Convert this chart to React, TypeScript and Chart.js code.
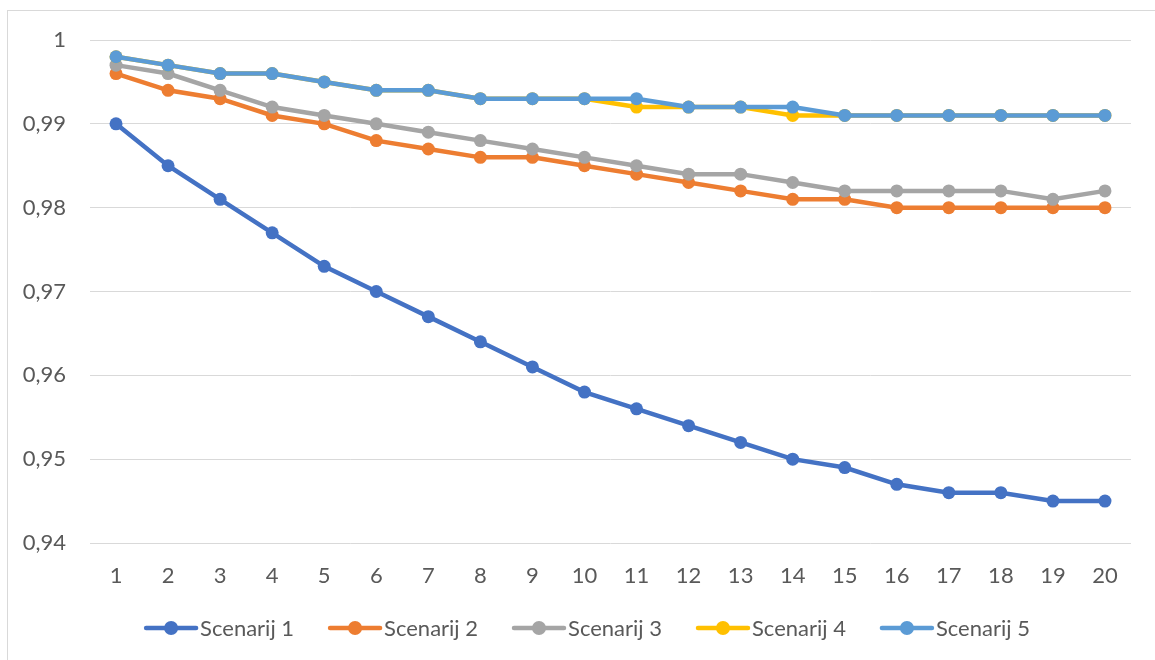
import React, { useEffect, useRef } from "react";
import { Chart, registerables } from "chart.js";

Chart.register(...registerables);

const categories = ["1", "2", "3", "4", "5", "6", "7", "8", "9", "10", "11", "12", "13", "14", "15", "16", "17", "18", "19", "20"];

const seriesNames = ["Scenarij 1", "Scenarij 2", "Scenarij 3", "Scenarij 4", "Scenarij 5"];
const seriesColors = ["#4472C4", "#ED7D31", "#A5A5A5", "#FFC000", "#5B9BD5"];

const scenarij1 = [0.990, 0.985, 0.981, 0.977, 0.973, 0.970, 0.967, 0.964, 0.961, 0.958, 0.956, 0.954, 0.952, 0.950, 0.949, 0.947, 0.946, 0.946, 0.945, 0.945];
const scenarij2 = [0.996, 0.994, 0.993, 0.991, 0.990, 0.988, 0.987, 0.986, 0.986, 0.985, 0.984, 0.983, 0.982, 0.981, 0.981, 0.980, 0.980, 0.980, 0.980, 0.980];
const scenarij3 = [0.997, 0.996, 0.994, 0.992, 0.991, 0.990, 0.989, 0.988, 0.987, 0.986, 0.985, 0.984, 0.984, 0.983, 0.982, 0.982, 0.982, 0.982, 0.981, 0.982];
const scenarij4 = [0.998, 0.997, 0.996, 0.996, 0.995, 0.994, 0.994, 0.993, 0.993, 0.993, 0.992, 0.992, 0.992, 0.991, 0.991, 0.991, 0.991, 0.991, 0.991, 0.991];
const scenarij5 = [0.998, 0.997, 0.996, 0.996, 0.995, 0.994, 0.994, 0.993, 0.993, 0.993, 0.993, 0.992, 0.992, 0.992, 0.991, 0.991, 0.991, 0.991, 0.991, 0.991];

const seriesValues = [scenarij1, scenarij2, scenarij3, scenarij4, scenarij5];

const yMin = 0.94;
const yMax = 1;
const yStep = 0.01;

const FONT = "Lato, 'Open Sans', sans-serif";
const TEXT_COLOR = "#595959";
const GRID_COLOR = "#d9d9d9";

const excelLegend = {
  id: "excelLegend",
  afterDraw(chart: any, _args: any, opts: any) {
    const ctx = chart.ctx as CanvasRenderingContext2D;
    const datasets = chart.data.datasets;
    ctx.save();
    ctx.font = `${opts.fontSize}px ${FONT}`;
    const widths = datasets.map((ds: any) => opts.lineWidth + opts.textGap + ctx.measureText(ds.label).width);
    const total = widths.reduce((a: number, b: number) => a + b, 0) + opts.itemGap * (datasets.length - 1);
    let x = opts.centerX - total / 2;
    const y = opts.centerY;
    datasets.forEach((ds: any, i: number) => {
      ctx.strokeStyle = ds.borderColor;
      ctx.lineWidth = opts.strokeWidth;
      ctx.lineCap = "round";
      ctx.beginPath();
      ctx.moveTo(x + 2, y);
      ctx.lineTo(x + opts.lineWidth - 2, y);
      ctx.stroke();
      ctx.fillStyle = ds.borderColor;
      ctx.beginPath();
      ctx.arc(x + opts.lineWidth / 2, y, opts.radius, 0, Math.PI * 2);
      ctx.fill();
      ctx.fillStyle = TEXT_COLOR;
      ctx.textBaseline = "middle";
      ctx.textAlign = "left";
      ctx.fillText(ds.label, x + opts.lineWidth + opts.textGap, y + 1);
      x += widths[i] + opts.itemGap;
    });
    ctx.restore();
  },
};

export default function App() {
  const canvasRef = useRef<HTMLCanvasElement | null>(null);

  useEffect(() => {
    if (!canvasRef.current) return;
    const chart = new Chart(canvasRef.current, {
      type: "line",
      data: {
        labels: categories,
        datasets: seriesNames.map((name, i) => ({
          label: name,
          data: seriesValues[i],
          borderColor: seriesColors[i],
          backgroundColor: seriesColors[i],
          pointBackgroundColor: seriesColors[i],
          pointBorderColor: seriesColors[i],
          borderWidth: 4.5,
          pointRadius: 6.5,
          pointBorderWidth: 0,
          tension: 0,
          fill: false,
          order: seriesNames.length - 1 - i,
        })),
      },
      options: {
        responsive: false,
        animation: false,
        layout: { padding: { top: 29, right: 24, left: 0, bottom: 0 } },
        plugins: {
          legend: { display: false },
          tooltip: { enabled: false },
          excelLegend: {
            centerX: 579,
            centerY: 617,
            fontSize: 22,
            lineWidth: 54,
            textGap: 2,
            itemGap: 34,
            strokeWidth: 4.5,
            radius: 7,
          },
        } as any,
        scales: {
          x: {
            type: "category",
            offset: true,
            grid: { display: false, drawTicks: false },
            border: { display: false },
            ticks: {
              color: TEXT_COLOR,
              font: { family: FONT, size: 22 },
              padding: 20,
              maxRotation: 0,
              autoSkip: false,
            },
            afterFit: (scale: any) => {
              scale.height = 117;
            },
          },
          y: {
            min: yMin,
            max: yMax,
            grid: { color: GRID_COLOR, lineWidth: 1, drawTicks: true, tickLength: 20, tickColor: "rgba(0,0,0,0)" },
            border: { display: false },
            ticks: {
              stepSize: yStep,
              color: TEXT_COLOR,
              font: { family: FONT, size: 22 },
              padding: 4,
              callback: (v: any) => String(Math.round(Number(v) * 100) / 100).replace(".", ","),
            },
            afterFit: (scale: any) => {
              scale.width = 82;
            },
          },
        },
      },
      plugins: [excelLegend],
    });
    return () => chart.destroy();
  }, []);

  return (
    <div
      style={{
        position: "fixed",
        left: 7,
        top: 10,
        width: 1148,
        height: 650,
        borderTop: "1px solid #d9d9d9",
        borderLeft: "1px solid #d9d9d9",
        boxSizing: "border-box",
        background: "#fff",
        overflow: "hidden",
      }}
    >
      <canvas ref={canvasRef} width={1147} height={649} style={{ display: "block", width: 1147, height: 649 }} />
    </div>
  );
}
